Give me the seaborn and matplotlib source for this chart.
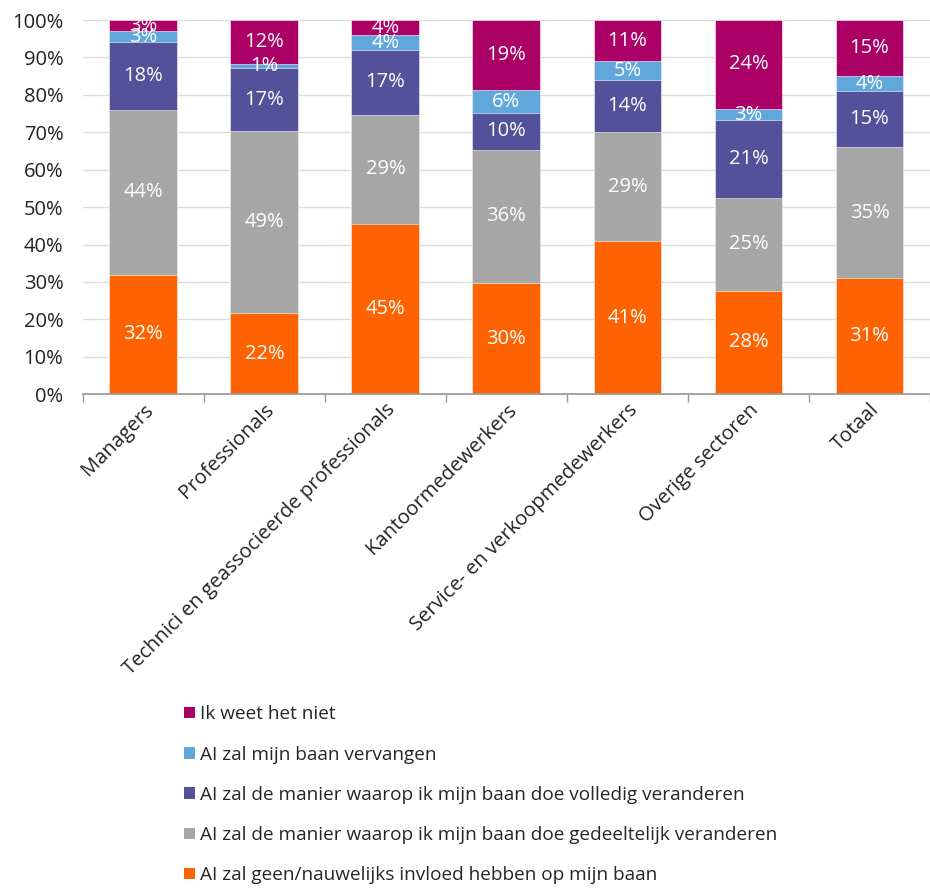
import matplotlib
matplotlib.use("Agg")
import matplotlib.pyplot as plt
import seaborn as sns
import numpy as np
import pandas as pd
from matplotlib.patches import Patch

categories = ["Managers", "Professionals", "Technici en geassocieerde professionals",
              "Kantoormedewerkers", "Service- en verkoopmedewerkers",
              "Overige sectoren", "Totaal"]
geen = [32, 22, 45, 30, 41, 28, 31]
gedeeltelijk = [44, 49, 29, 36, 29, 25, 35]
volledig = [18, 17, 17, 10, 14, 21, 15]
vervangen = [3, 1, 4, 6, 5, 3, 4]
weet_niet = [3, 12, 4, 19, 11, 24, 15]

series_names = ["AI zal geen/nauwelijks invloed hebben op mijn baan",
                "AI zal de manier waarop ik mijn baan doe gedeeltelijk veranderen",
                "AI zal de manier waarop ik mijn baan doe volledig veranderen",
                "AI zal mijn baan vervangen",
                "Ik weet het niet"]
colors = ["#FF6200", "#A6A6A6", "#525199", "#60A8DC", "#AB0066"]

sns.set_theme(style="white")
plt.rcParams["font.family"] = ["Open Sans", "DejaVu Sans"]
FS = 14.5

vals = np.array([geen, gedeeltelijk, volledig, vervangen, weet_niet], dtype=float)
pct = vals / vals.sum(axis=0) * 100
cum = np.cumsum(pct, axis=0)

fig = plt.figure(figsize=(9.3, 8.9), dpi=100)
ax = fig.add_axes([0.089, 0.557, 0.911, 0.4205])

for i in range(len(series_names) - 1, -1, -1):
    df = pd.DataFrame({"cat": categories, "v": cum[i]})
    sns.barplot(data=df, x="cat", y="v", color=colors[i], width=0.56,
                saturation=1, ax=ax, edgecolor="white", linewidth=0.4)

for i in range(len(series_names)):
    for j in range(len(categories)):
        mid = cum[i, j] - pct[i, j] / 2
        ax.text(j, mid, f"{int(vals[i, j])}%", ha="center", va="center",
                color="white", fontsize=FS)

ax.set_ylim(0, 100)
ax.set_xlim(-0.5, len(categories) - 0.5)
ax.set_yticks(np.arange(0, 101, 10))
ax.set_yticklabels([f"{v}%" for v in range(0, 101, 10)], fontsize=FS, color="#222222")
ax.yaxis.grid(True, color="#DDDDDD", linewidth=1)
ax.set_axisbelow(True)
ax.set_xlabel("")
ax.set_ylabel("")
ax.set_xticks(range(len(categories)))
ax.set_xticklabels(categories, rotation=45, ha="right", rotation_mode="anchor",
                   fontsize=FS, color="#222222")
ax.tick_params(axis="x", length=0, pad=4)
ax.tick_params(axis="y", length=0, pad=14)
ax.set_xticks(np.arange(-0.5, len(categories), 1), minor=True)
ax.tick_params(axis="x", which="minor", length=6, color="#999999", width=1, direction="out", bottom=True)
for s in ["top", "right", "left"]:
    ax.spines[s].set_visible(False)
ax.spines["bottom"].set_color("#999999")

handles = [Patch(facecolor=colors[i], edgecolor="none") for i in range(len(series_names) - 1, -1, -1)]
labels = [series_names[i] for i in range(len(series_names) - 1, -1, -1)]
fig.legend(handles, labels, loc="upper left", bbox_to_anchor=(0.19, 0.216),
           frameon=False, fontsize=13.7, handlelength=0.55, handleheight=0.55,
           handletextpad=0.3, labelspacing=1.17, borderaxespad=0)

fig.savefig("out.png", dpi=100)
